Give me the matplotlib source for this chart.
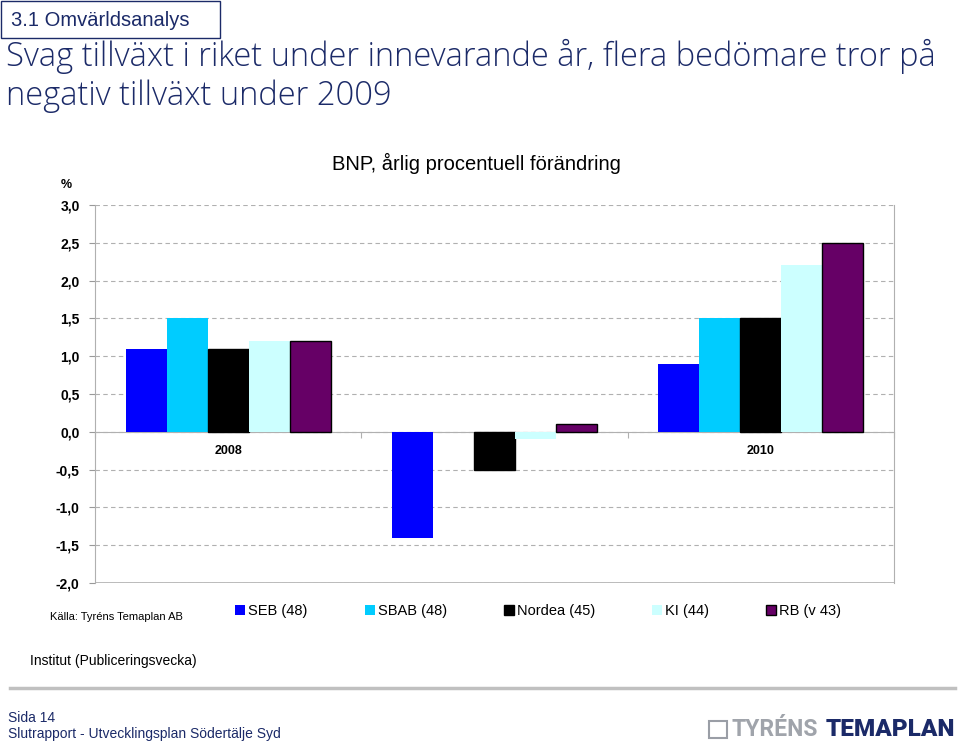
import matplotlib.pyplot as plt
import matplotlib.patches as mpatches
import numpy as np

years = ["2008", "", "2010"]
series = ["SEB (48)", "SBAB (48)", "Nordea (45)", "KI (44)", "RB (v 43)"]
seb = [1.1, -1.4, 0.9]
sbab = [1.5, 0.0, 1.5]
nordea = [1.1, -0.5, 1.5]
ki = [1.2, -0.1, 2.2]
rb = [1.2, 0.1, 2.5]
yticks = [3.0, 2.5, 2.0, 1.5, 1.0, 0.5, 0.0, -0.5, -1.0, -1.5, -2.0]

farger = ["#0000ff", "#00ccff", "#000000", "#ccffff", "#660066"]
kanter = ["none", "none", "#000000", "none", "#000000"]
rubrik_blå = "#1b2a68"

W, H = 960, 742
fig = plt.figure(figsize=(W / 100, H / 100), dpi=100)
plt.rcParams['font.family'] = ['Liberation Sans', 'DejaVu Sans']

def px(x, y):
    return x / W, 1 - y / H

# rubrikruta
fig.patches.append(mpatches.Rectangle(px(1, 38), 219 / W, 37 / H, transform=fig.transFigure,
                                      fill=False, edgecolor="#1b2a68", linewidth=1))
fig.text(*px(11, 20), "3.1 Omvärldsanalys", fontsize=14.5, color=rubrik_blå, va="center")
fig.text(*px(6, 56), "Svag tillväxt i riket under innevarande år, flera bedömare tror på",
         fontsize=23.5, color=rubrik_blå, va="center", family="Open Sans", fontweight="light")
fig.text(*px(6, 96), "negativ tillväxt under 2009",
         fontsize=23.5, color=rubrik_blå, va="center", family="Open Sans", fontweight="light")

# diagram
ax = fig.add_axes([95 / W, 1 - 583 / H, (894 - 95) / W, (583 - 205) / H])
x = np.arange(len(years))
bredd = 0.154
for i, (värden, namn) in enumerate(zip([seb, sbab, nordea, ki, rb], series)):
    ax.bar(x + (i - 2) * bredd, värden, bredd, color=farger[i], edgecolor=kanter[i],
           linewidth=1, label=namn, zorder=3)

ax.set_xlim(-0.5, 2.5)
ax.set_ylim(-2.0, 3.0)
ax.set_yticks(yticks)
ax.set_yticklabels([f"{v:.1f}".replace(".", ",") for v in yticks], fontsize=10,
                   fontweight="bold")
ax.yaxis.grid(True, linestyle=(0, (4, 3)), color="#b0b0b0", linewidth=0.8, zorder=0)
ax.tick_params(axis="y", length=4, color="#999999", pad=7)

ax.spines["top"].set_visible(False)
for s in ["left", "right", "bottom"]:
    ax.spines[s].set_color("#b0b0b0")
ax.spines["bottom"].set_position(("data", 0))
ax.axhline(-2.0, color="#b0b0b0", linewidth=1.2, zorder=1)
ax.set_xticks(np.arange(len(years) + 1) - 0.5)
ax.set_xticklabels([])
ax.tick_params(axis="x", length=4, color="#b0b0b0")
for xi, år in zip(x, years):
    ax.text(xi, -0.26, år, ha="center", va="center", fontsize=9, fontweight="bold")

fig.text(*px(476, 163), "BNP, årlig procentuell förändring", fontsize=14.5, ha="center",
         va="center")
fig.text(*px(66, 185), "%", fontsize=9, fontweight="bold", ha="center", va="center")

fig.text(*px(50, 617), "Källa: Tyréns Temaplan AB", fontsize=8, va="center")
fig.legend(loc="center left", bbox_to_anchor=px(222, 611), ncol=5, frameon=False, fontsize=10.5,
           handlelength=0.7, handleheight=0.7, handletextpad=0.2, columnspacing=3.9)
fig.text(*px(30, 661), "Institut (Publiceringsvecka)", fontsize=10, va="center")

# sidfot
fig.add_artist(plt.Line2D([10 / W, 955 / W], [1 - 688 / H] * 2, color="#c0c0c0", linewidth=2.5))
fig.text(*px(8, 718), "Sida 14", fontsize=10, va="center", color="#1b2a68")
fig.text(*px(8, 734), "Slutrapport - Utvecklingsplan Södertälje Syd", fontsize=10, va="center",
         color="#1b2a68")
fig.patches.append(mpatches.Rectangle(px(709, 738), 18 / W, 17 / H, transform=fig.transFigure,
                                      fill=False, edgecolor="#9a9ea6", linewidth=1.5))
fig.text(*px(731, 729), "TYRÉNS", fontsize=16.5, fontweight="bold", color="#a0a4ab", va="center",
         family="Roboto")
fig.text(*px(826, 729), "TEMAPLAN", fontsize=17.5, fontweight="heavy", color="#1b2a68",
         va="center", family="Roboto")

fig.savefig("out.png", dpi=100)
